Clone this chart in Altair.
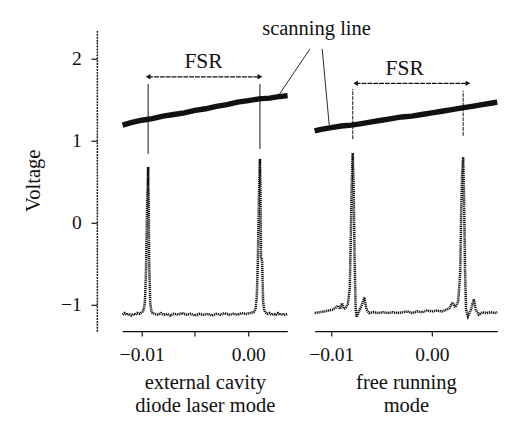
import altair as alt
import pandas as pd

FONT = "Liberation Serif"

# ---------------- data ----------------
# left panel: external cavity diode laser mode (transmission trace)
left_trace_x = [-0.0118, -0.0116, -0.0114, -0.0112, -0.0110, -0.0108, -0.0106, -0.0104, -0.0102,
                -0.0100, -0.0099, -0.0098, -0.0097, -0.0096, -0.0095, -0.0094, -0.00935, -0.0093,
                -0.0092, -0.0091, -0.0090, -0.0088, -0.0085, -0.0082, -0.0079, -0.0076, -0.0073,
                -0.0070, -0.0066, -0.0062, -0.0058, -0.0054, -0.0050, -0.0046, -0.0042, -0.0038,
                -0.0034, -0.0030, -0.0026, -0.0022, -0.0018, -0.0014, -0.0010, -0.0006, -0.0002,
                0.0002, 0.0005, 0.0006, 0.0007, 0.0008, 0.0009, 0.0010, 0.0011, 0.00115, 0.0012,
                0.0013, 0.0014, 0.0015, 0.0016, 0.0018, 0.0020, 0.0022, 0.0024, 0.0026, 0.0028,
                0.0030, 0.0032, 0.0034, 0.0037]
left_trace_y = [-1.12, -1.10, -1.12, -1.11, -1.13, -1.11, -1.12, -1.10, -1.11,
                -1.09, -1.08, -1.05, -0.96, -0.60, 0.20, 0.68, 0.30, -0.50,
                -0.99, -1.07, -1.10, -1.11, -1.12, -1.10, -1.12, -1.11, -1.13,
                -1.11, -1.12, -1.10, -1.12, -1.11, -1.13, -1.11, -1.12, -1.11,
                -1.13, -1.11, -1.12, -1.10, -1.12, -1.11, -1.12, -1.10, -1.11,
                -1.10, -1.09, -1.07, -1.04, -0.91, -0.50, 0.30, 0.78, 0.40, -0.42,
                -0.45, -0.96, -1.06, -1.09, -1.11, -1.10, -1.12, -1.11, -1.12, -1.10,
                -1.12, -1.11, -1.12, -1.11]

# right panel: free running mode (transmission trace, with side modes)
right_trace_x = [-0.01165, -0.01117, -0.01068, -0.01029, -0.00990, -0.00961, -0.00932, -0.00913,
                 -0.00893, -0.00874, -0.00854, -0.00835, -0.00816, -0.00806, -0.00796, -0.00786,
                 -0.00777, -0.00767, -0.00757, -0.00748, -0.00728, -0.00699, -0.00670, -0.00650,
                 -0.00621, -0.00583, -0.00534, -0.00485, -0.00437, -0.00388, -0.00340, -0.00291,
                 -0.00243, -0.00194, -0.00146, -0.00097, -0.00049, 0.0, 0.00049, 0.00097, 0.00146,
                 0.00175, 0.00204, 0.00233, 0.00262, 0.00282, 0.00291, 0.00301, 0.00311, 0.00320,
                 0.00330, 0.00340, 0.00359, 0.00388, 0.00417, 0.00437, 0.00466, 0.00505, 0.00544,
                 0.00583, 0.00620, 0.00650]
right_trace_y = [-1.10, -1.09, -1.08, -1.07, -1.06, -1.04, -1.01, -1.05,
                 -0.98, -1.05, -1.03, -0.99, -0.80, -0.20, 0.50, 0.85,
                 0.40, -0.50, -1.06, -1.15, -1.09, -1.01, -0.91, -1.06,
                 -1.10, -1.09, -1.10, -1.09, -1.10, -1.09, -1.10, -1.09,
                 -1.08, -1.10, -1.08, -1.09, -1.07, -1.08, -1.07, -1.08, -1.06,
                 -1.04, -0.97, -1.03, -0.96, -0.60, 0.10, 0.60, 0.80, 0.30,
                 -0.60, -1.06, -1.14, -1.06, -0.93, -1.06, -1.12, -1.09, -1.10,
                 -1.09, -1.10, -1.09]

# scanning (ramp) lines
left_scan_x = [-0.0118, -0.0110, -0.0100, -0.0090, -0.0080, -0.0070, -0.0060, -0.0050, -0.0040,
               -0.0030, -0.0020, -0.0010, 0.0000, 0.0010, 0.0020, 0.0030, 0.0037]
left_scan_y = [1.19, 1.22, 1.25, 1.27, 1.30, 1.32, 1.34, 1.37, 1.39,
               1.42, 1.44, 1.47, 1.49, 1.51, 1.52, 1.54, 1.55]
right_scan_x = [-0.01165, -0.0110, -0.0100, -0.0090, -0.0080, -0.0070, -0.0060, -0.0050, -0.0040,
                -0.0030, -0.0020, -0.0010, 0.0000, 0.0010, 0.0020, 0.0030, 0.0040, 0.0050,
                0.0060, 0.0065]
right_scan_y = [1.12, 1.14, 1.16, 1.18, 1.19, 1.21, 1.23, 1.25, 1.27,
                1.29, 1.30, 1.32, 1.34, 1.36, 1.38, 1.40, 1.42, 1.44,
                1.46, 1.47]

# FSR markers: vertical lines through the peaks, arrows and labels
left_marks_x = [-0.0094, 0.0011]
left_marks_y = [0.84, 0.90]
left_marks_y2 = [1.69, 1.69]
right_marks_x = [-0.00786, 0.00311]
right_marks_y = [1.02, 1.06]
right_marks_y2 = [1.63, 1.61]
left_fsr = {"x": -0.0094, "x2": 0.0011, "y": 1.78}
right_fsr = {"x": -0.00757, "x2": 0.00359, "y": 1.70}
left_fsr_text = {"x": -0.0042, "y": 1.97, "text": "FSR"}
right_fsr_text = {"x": -0.0027, "y": 1.89, "text": "FSR"}

# "scanning line" annotation (left panel leader, right panel leader, label)
left_leader = {"x": 0.00580, "x2": 0.00284, "y": 2.12, "y2": 1.55}
right_leader = {"x": -0.01090, "x2": -0.01020, "y": 2.12, "y2": 1.19}
scan_label = {"x": -0.01146, "y": 2.357, "text": "scanning line"}

y_ticks = [-1, -0.5, 0, 0.5, 1, 1.5, 2]
left_x_ticks = [-0.01, -0.005, 0.0]
right_x_ticks = [-0.01, 0.0]
left_title = ["external cavity", "diode laser mode"]
right_title = ["free running", "mode"]
y_title = "Voltage"

# ---------------- chart ----------------
y_scale = alt.Scale(domain=[-1.321, 2.357], nice=False, zero=False)
lx_scale = alt.Scale(domain=[-0.01183, 0.00367], nice=False, zero=False)
rx_scale = alt.Scale(domain=[-0.01165, 0.00650], nice=False, zero=False)

BLACK = "#111111"
PLOT_H = 309


def x_axis(values, title):
    return alt.Axis(values=values, format=".2f",
                    labelExpr="abs(datum.value) > 0.009 || datum.value == 0 ? datum.label : ''",
                    title=title, grid=False, domainColor=BLACK, domainWidth=1.2,
                    tickColor=BLACK, tickSize=5, tickWidth=1.2, labelFont=FONT, labelFontSize=20,
                    labelColor=BLACK, labelPadding=9, titleFont=FONT, titleFontSize=21,
                    titleFontWeight="normal", titleColor=BLACK, titlePadding=8,
                    titleLineHeight=23)


def panel(trace_x, trace_y, scan_x, scan_y, mx, my, my2, fsr, fsr_text, leader,
          xscale, xaxis, yaxis, right_side):
    trace = pd.DataFrame({"x": trace_x, "y": trace_y})
    scan = pd.DataFrame({"x": scan_x, "y": scan_y})
    marks = pd.DataFrame({"x": mx, "y": my, "y2": my2})
    fsr_df = pd.DataFrame([fsr])
    heads = pd.DataFrame({"x": [fsr["x"], fsr["x2"]], "y": [fsr["y"], fsr["y"]],
                          "shape": ["triangle-left", "triangle-right"]})
    txt = pd.DataFrame([fsr_text])
    lead = pd.DataFrame([leader])

    base_trace = alt.Chart(trace).mark_line(color=BLACK, strokeWidth=2.6,
                                            strokeDash=[1.2, 0.8]).encode(
        x=alt.X("x:Q", scale=xscale, axis=xaxis),
        y=alt.Y("y:Q", scale=y_scale, axis=yaxis),
        order="x:Q")
    scan_line = alt.Chart(scan).mark_line(color=BLACK, strokeWidth=5.5).encode(
        x="x:Q", y="y:Q")
    vlines = alt.Chart(marks).mark_rule(
        color=BLACK, strokeWidth=1, **({"strokeDash": [4, 1]} if right_side else {})).encode(
        x="x:Q", y="y:Q", y2="y2:Q")
    arrow = alt.Chart(fsr_df).mark_rule(color=BLACK, strokeWidth=1.3,
                                        strokeDash=[5, 1]).encode(
        x="x:Q", x2="x2:Q", y="y:Q")
    arrow_heads = alt.Chart(heads).mark_point(filled=True, color=BLACK, size=30,
                                              opacity=1).encode(
        x="x:Q", y="y:Q",
        shape=alt.Shape("shape:N", scale=None, legend=None))
    label = alt.Chart(txt).mark_text(font=FONT, fontSize=22, color=BLACK,
                                     baseline="middle").encode(
        x="x:Q", y="y:Q", text="text:N")
    leader_line = alt.Chart(lead).mark_rule(color=BLACK, strokeWidth=0.9).encode(
        x="x:Q", x2="x2:Q", y="y:Q", y2="y2:Q")
    return [base_trace, scan_line, vlines, arrow, arrow_heads, label, leader_line]


y_axis = alt.Axis(values=y_ticks, labelExpr="datum.value % 1 === 0 ? datum.label : ''",
                  format="d", title=y_title, offset=26, grid=False,
                  domainColor=BLACK, domainDash=[2, 1], domainWidth=1.5,
                  tickColor=BLACK, tickWidth=1.2,
                  tickSize={"condition": {"test": "datum.value % 1 === 0", "value": 6},
                            "value": 3},
                  labelFont=FONT, labelFontSize=20, labelColor=BLACK, labelPadding=10,
                  titleFont=FONT, titleFontSize=21, titleFontWeight="normal",
                  titleColor=BLACK, titlePadding=17)

left_layers = panel(left_trace_x, left_trace_y, left_scan_x, left_scan_y,
                    left_marks_x, left_marks_y, left_marks_y2, left_fsr, left_fsr_text,
                    left_leader, lx_scale, x_axis(left_x_ticks, left_title), y_axis, False)
right_layers = panel(right_trace_x, right_trace_y, right_scan_x, right_scan_y,
                     right_marks_x, right_marks_y, right_marks_y2, right_fsr, right_fsr_text,
                     right_leader, rx_scale, x_axis(right_x_ticks, right_title), None, True)

scan_text = alt.Chart(pd.DataFrame([scan_label])).mark_text(
    font=FONT, fontSize=21, color=BLACK, baseline="middle").encode(
    x="x:Q", y="y:Q", text="text:N")

left = alt.layer(*left_layers).properties(width=169, height=PLOT_H)
right = alt.layer(*right_layers, scan_text).properties(width=187, height=PLOT_H)

chart = alt.hconcat(left, right, spacing=28, bounds="flush").resolve_scale(
    x="independent").properties(
    padding={"left": 15, "top": 6, "right": 0, "bottom": 0},
    background="white"
).configure_view(strokeWidth=0)

chart.save("out.html", embed_options={"renderer": "svg", "actions": False})
